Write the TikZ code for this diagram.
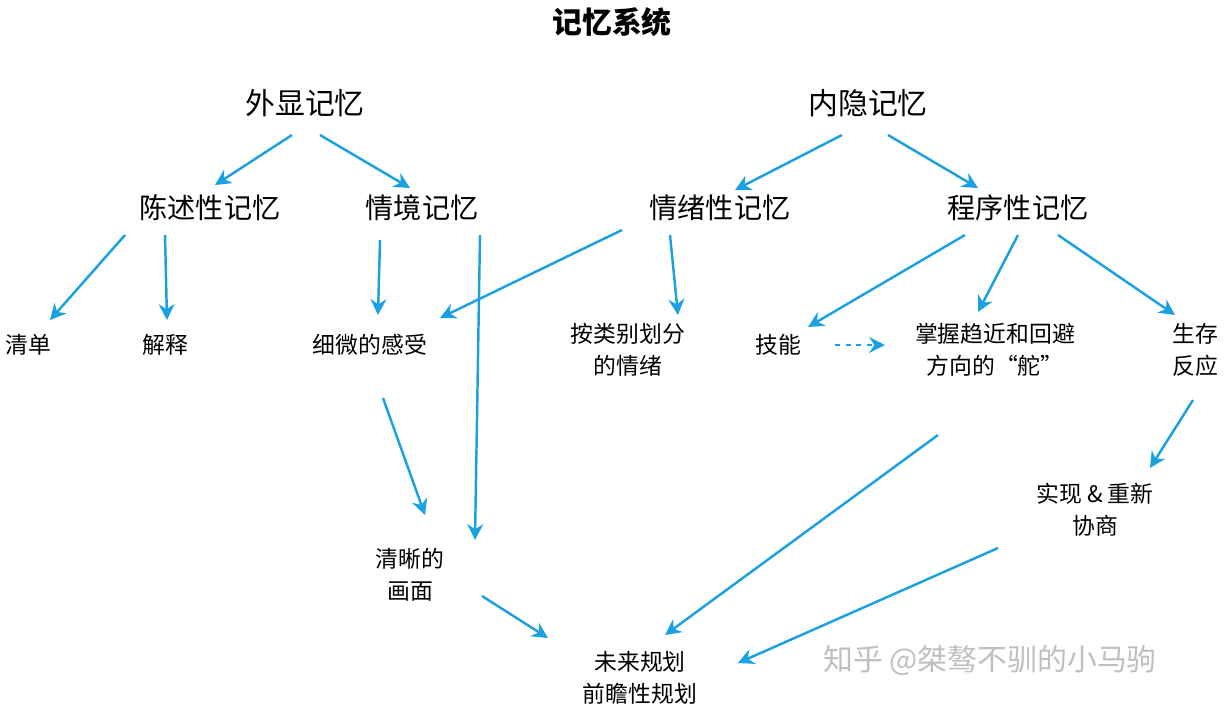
\documentclass[tikz,border=0pt]{standalone}
\usepackage{fontspec}
\newfontfamily\cjk{Noto Sans CJK SC}
\usetikzlibrary{arrows.meta}
\definecolor{arrowblue}{RGB}{27,161,226}

\begin{document}
\begin{tikzpicture}[x=0.02cm,y=-0.02cm,
    head/.style={font=\cjk\fontsize{16}{19}\selectfont, inner sep=2pt},
    leaf/.style={font=\cjk\fontsize{13}{18}\selectfont, align=center, inner sep=3pt},
    link/.style={draw=arrowblue, line width=1.4pt, -{Stealth[length=9pt,width=9pt]}}]
  \useasboundingbox (0,0) rectangle (1224,708);

  % titles
  \node[font=\cjk\bfseries\fontsize{17}{20}\selectfont] (title) at (612,22) {记忆系统};
  \node[head, font=\cjk\fontsize{17}{20}\selectfont] (explicit) at (305,103) {外显记忆};
  \node[head, font=\cjk\fontsize{17}{20}\selectfont] (implicit) at (868,103) {内隐记忆};

  % second row
  \node[head] (declar) at (210,208) {陈述性记忆};
  \node[head] (episod) at (422,208) {情境记忆};
  \node[head] (emotion) at (720,208) {情绪性记忆};
  \node[head] (proced) at (1018,208) {程序性记忆};

  % leaves
  \node[leaf] (list) at (28,345) {清单};
  \node[leaf] (explain) at (165,345) {解释};
  \node[leaf] (subtle) at (370,345) {细微的感受};
  \node[leaf] (classed) at (628,350) {按类别划分\\的情绪};
  \node[leaf] (skill) at (778,345) {技能};
  \node[leaf] (rudder) at (995,350) {掌握趋近和回避\\方向的“舵”};
  \node[leaf] (survive) at (1195,350) {生存\\反应};
  \node[leaf] (clear) at (410,575) {清晰的\\画面};
  \node[leaf] (renego) at (1095,510) {实现 \& 重新\\协商};
  \node[leaf] (future) at (640,678) {未来规划\\前瞻性规划};

  \node[font=\cjk\fontsize{17}{20}\selectfont, text=black!25] (mark) at (990,660) {知乎 @桀骜不驯的小马驹};

  % connectors
  \draw[link] ([shift={(-13,32)}]explicit.center) -- ([shift={(5,-23)}]declar.center);
  \draw[link] ([shift={(15,32)}]explicit.center) -- ([shift={(-12,-20)}]episod.center);
  \draw[link] ([shift={(-26,32)}]implicit.center) -- ([shift={(15,-18)}]emotion.center);
  \draw[link] ([shift={(20,32)}]implicit.center) -- ([shift={(-40,-20)}]proced.center);
  \draw[link] ([shift={(-85,27)}]declar.center) -- ([shift={(22,-25)}]list.center);
  \draw[link] ([shift={(-45,27)}]declar.center) -- ([shift={(2,-25)}]explain.center);
  \draw[link] ([shift={(-42,32)}]episod.center) -- ([shift={(8,-30)}]subtle.center);
  \draw[link] ([shift={(58,27)}]episod.center) -- ([shift={(65,-35)}]clear.center);
  \draw[link] ([shift={(-98,22)}]emotion.center) -- ([shift={(70,-27)}]subtle.center);
  \draw[link] ([shift={(-50,27)}]emotion.center) -- ([shift={(50,-35)}]classed.center);
  \draw[link] ([shift={(-53,27)}]proced.center) -- ([shift={(30,-18)}]skill.center);
  \draw[link] ([shift={(0,27)}]proced.center) -- ([shift={(-17,-38)}]rudder.center);
  \draw[link] ([shift={(40,27)}]proced.center) -- ([shift={(-20,-35)}]survive.center);
  \draw[link, dashed, line width=1.2pt] ([shift={(57,0)}]skill.center) -- ([shift={(-110,-5)}]rudder.center);
  \draw[link] ([shift={(13,53)}]subtle.center) -- ([shift={(15,-60)}]clear.center);
  \draw[link] ([shift={(-2,50)}]survive.center) -- ([shift={(55,-42)}]renego.center);
  \draw[link] ([shift={(-57,85)}]rudder.center) -- ([shift={(25,-43)}]future.center);
  \draw[link] ([shift={(-97,38)}]renego.center) -- ([shift={(98,-15)}]future.center);
  \draw[link] ([shift={(72,21)}]clear.center) -- ([shift={(-92,-40)}]future.center);
\end{tikzpicture}
\end{document}
